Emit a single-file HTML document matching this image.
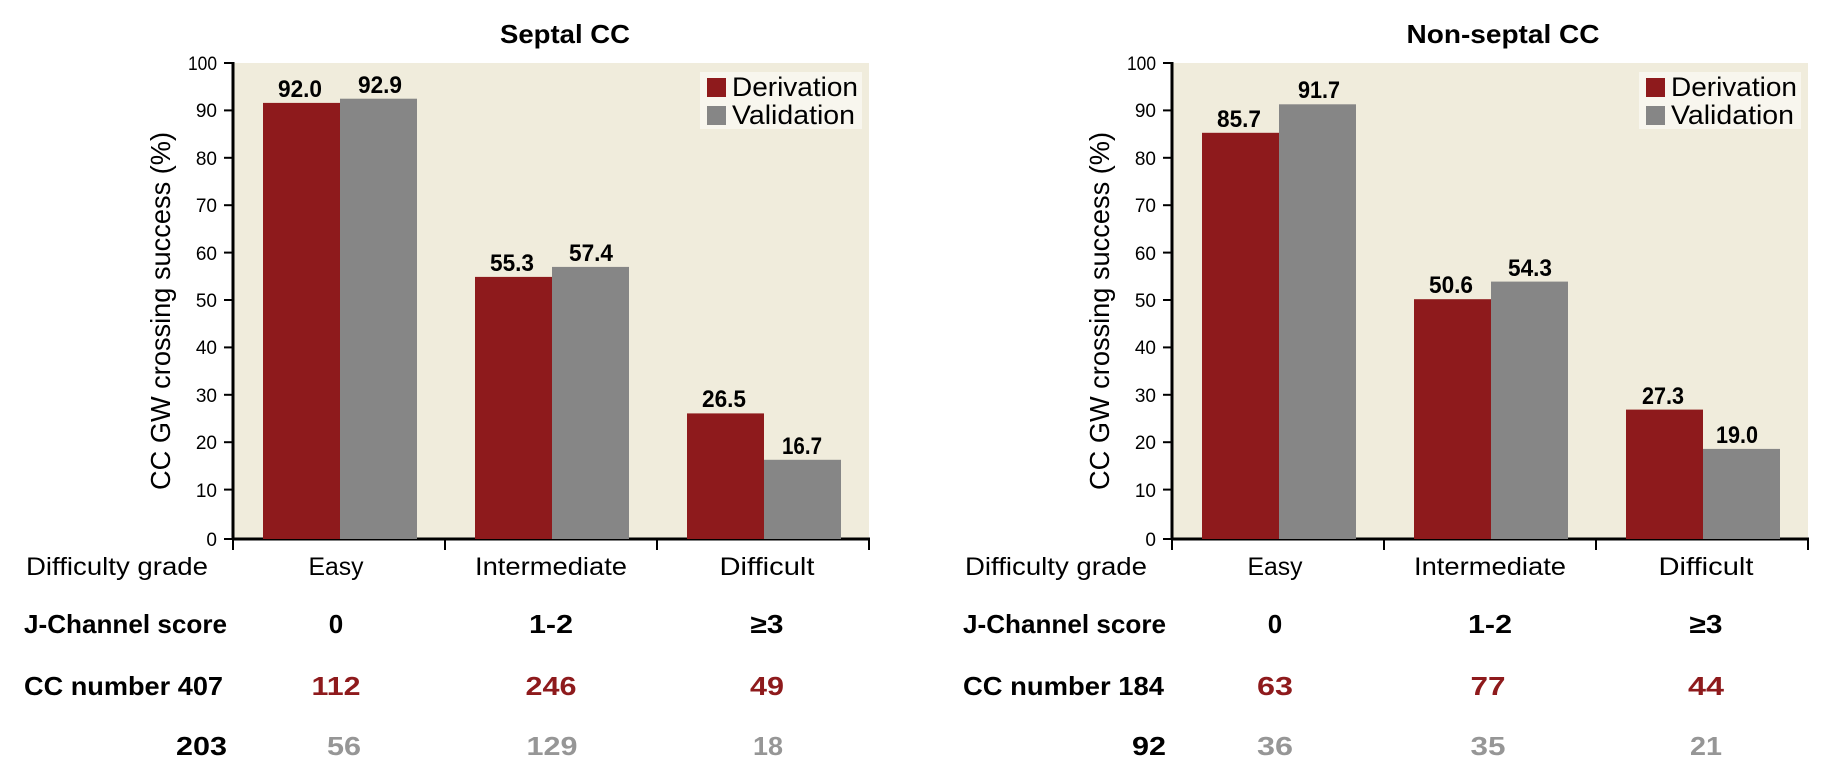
<!DOCTYPE html>
<html><head><meta charset="utf-8"><style>
html,body{margin:0;padding:0;background:#fff;}
svg{display:block;}
text{font-family:"Liberation Sans Narrow","Liberation Sans",sans-serif;}
</style></head><body>
<svg width="1831" height="780" viewBox="0 0 1831 780" xmlns="http://www.w3.org/2000/svg">
<defs>
<g id="frame">
  <rect x="233" y="63" width="636" height="476" fill="#f0ecdc"/>
  <rect x="700" y="72" width="162" height="57" fill="#f8f6ee"/>
  <rect x="707" y="78" width="19" height="19" fill="#8e1a1c"/>
  <rect x="707" y="106" width="19" height="19" fill="#868686"/>
  <text x="732" y="96" font-size="27" textLength="126" lengthAdjust="spacingAndGlyphs">Derivation</text>
  <text x="732" y="124" font-size="27" textLength="123" lengthAdjust="spacingAndGlyphs">Validation</text>
  <g stroke="#000" stroke-width="2">
    <line x1="224" y1="63" x2="233" y2="63"/><line x1="224" y1="110.4" x2="233" y2="110.4"/>
    <line x1="224" y1="157.8" x2="233" y2="157.8"/><line x1="224" y1="205.2" x2="233" y2="205.2"/>
    <line x1="224" y1="252.6" x2="233" y2="252.6"/><line x1="224" y1="300" x2="233" y2="300"/>
    <line x1="224" y1="347.4" x2="233" y2="347.4"/><line x1="224" y1="394.8" x2="233" y2="394.8"/>
    <line x1="224" y1="442.2" x2="233" y2="442.2"/><line x1="224" y1="489.6" x2="233" y2="489.6"/>
    <line x1="224" y1="539" x2="233" y2="539"/>
    <line x1="233" y1="539" x2="233" y2="550"/><line x1="445" y1="539" x2="445" y2="550"/>
    <line x1="657" y1="539" x2="657" y2="550"/><line x1="869" y1="539" x2="869" y2="550"/>
  </g>
  <line x1="233" y1="62" x2="233" y2="540" stroke="#000" stroke-width="3"/>
  <line x1="232" y1="539" x2="870" y2="539" stroke="#000" stroke-width="3"/>
  <g font-size="19" text-anchor="end">
    <text x="217" y="70" textLength="29" lengthAdjust="spacingAndGlyphs">100</text>
    <text x="217" y="117">90</text><text x="217" y="165">80</text><text x="217" y="212">70</text>
    <text x="217" y="260">60</text><text x="217" y="307">50</text><text x="217" y="354">40</text>
    <text x="217" y="402">30</text><text x="217" y="449">20</text><text x="217" y="497">10</text>
    <text x="217" y="546">0</text>
  </g>
  <text transform="translate(170,311) rotate(-90)" font-size="28" text-anchor="middle" textLength="358" lengthAdjust="spacingAndGlyphs" style="font-family:'Liberation Sans',sans-serif">CC GW crossing success (%)</text>
  <g font-size="25" style="font-family:'Liberation Sans',sans-serif">
    <text x="26" y="575" textLength="182" lengthAdjust="spacingAndGlyphs">Difficulty grade</text>
    <text x="336" y="575" text-anchor="middle" textLength="55" lengthAdjust="spacingAndGlyphs">Easy</text>
    <text x="551" y="575" text-anchor="middle" textLength="152" lengthAdjust="spacingAndGlyphs">Intermediate</text>
    <text x="767" y="575" text-anchor="middle" textLength="95" lengthAdjust="spacingAndGlyphs">Difficult</text>
  </g>
  <g font-size="26" font-weight="bold">
    <text x="24" y="633" textLength="203" lengthAdjust="spacingAndGlyphs">J-Channel score</text>
    <text x="336" y="633" text-anchor="middle">0</text>
    <text x="551" y="633" text-anchor="middle" textLength="44" lengthAdjust="spacingAndGlyphs">1-2</text>
    <text x="767" y="633" text-anchor="middle" textLength="33" lengthAdjust="spacingAndGlyphs">≥3</text>
  </g>
</g>
</defs>

<!-- Left chart -->
<use href="#frame"/>
<text x="565" y="43" font-size="26" font-weight="bold" text-anchor="middle" textLength="130" lengthAdjust="spacingAndGlyphs">Septal CC</text>
<rect x="263" y="102.9" width="77" height="436.1" fill="#8e1a1c"/>
<rect x="340" y="98.7" width="77" height="440.3" fill="#868686"/>
<rect x="475" y="276.9" width="77" height="262.1" fill="#8e1a1c"/>
<rect x="552" y="266.9" width="77" height="272.1" fill="#868686"/>
<rect x="687" y="413.4" width="77" height="125.6" fill="#8e1a1c"/>
<rect x="764" y="459.8" width="77" height="79.2" fill="#868686"/>
<g font-size="24" font-weight="bold" text-anchor="middle">
  <text x="300" y="97" textLength="44" lengthAdjust="spacingAndGlyphs">92.0</text>
  <text x="380" y="93" textLength="44" lengthAdjust="spacingAndGlyphs">92.9</text>
  <text x="512" y="271" textLength="44" lengthAdjust="spacingAndGlyphs">55.3</text>
  <text x="591" y="261" textLength="44" lengthAdjust="spacingAndGlyphs">57.4</text>
  <text x="724" y="407" textLength="44" lengthAdjust="spacingAndGlyphs">26.5</text>
  <text x="802" y="454" textLength="40" lengthAdjust="spacingAndGlyphs">16.7</text>
</g>
<g font-size="26" font-weight="bold">
  <text x="24" y="695" textLength="199" lengthAdjust="spacingAndGlyphs">CC number 407</text>
  <text x="227" y="755" text-anchor="end" textLength="51" lengthAdjust="spacingAndGlyphs">203</text>
  <g fill="#8e1a1c" text-anchor="middle">
    <text x="336" y="695" textLength="49" lengthAdjust="spacingAndGlyphs">112</text>
    <text x="551" y="695" textLength="51" lengthAdjust="spacingAndGlyphs">246</text>
    <text x="767" y="695" textLength="34" lengthAdjust="spacingAndGlyphs">49</text>
  </g>
  <g fill="#969696" text-anchor="middle">
    <text x="344" y="755" textLength="34" lengthAdjust="spacingAndGlyphs">56</text>
    <text x="552" y="755" textLength="51" lengthAdjust="spacingAndGlyphs">129</text>
    <text x="768" y="755" textLength="30" lengthAdjust="spacingAndGlyphs">18</text>
  </g>
</g>

<!-- Right chart -->
<g transform="translate(939,0)">
<use href="#frame"/>
<text x="564" y="43" font-size="26" font-weight="bold" text-anchor="middle" textLength="193" lengthAdjust="spacingAndGlyphs">Non-septal CC</text>
<rect x="263" y="132.8" width="77" height="406.2" fill="#8e1a1c"/>
<rect x="340" y="104.3" width="77" height="434.7" fill="#868686"/>
<rect x="475" y="299.2" width="77" height="239.8" fill="#8e1a1c"/>
<rect x="552" y="281.6" width="77" height="257.4" fill="#868686"/>
<rect x="687" y="409.6" width="77" height="129.4" fill="#8e1a1c"/>
<rect x="764" y="448.9" width="77" height="90.1" fill="#868686"/>
<g font-size="24" font-weight="bold" text-anchor="middle">
  <text x="300" y="127" textLength="44" lengthAdjust="spacingAndGlyphs">85.7</text>
  <text x="380" y="98" textLength="42" lengthAdjust="spacingAndGlyphs">91.7</text>
  <text x="512" y="293" textLength="44" lengthAdjust="spacingAndGlyphs">50.6</text>
  <text x="591" y="276" textLength="44" lengthAdjust="spacingAndGlyphs">54.3</text>
  <text x="724" y="404" textLength="42" lengthAdjust="spacingAndGlyphs">27.3</text>
  <text x="798" y="443" textLength="42" lengthAdjust="spacingAndGlyphs">19.0</text>
</g>
<g font-size="26" font-weight="bold">
  <text x="24" y="695" textLength="201" lengthAdjust="spacingAndGlyphs">CC number 184</text>
  <text x="227" y="755" text-anchor="end" textLength="34" lengthAdjust="spacingAndGlyphs">92</text>
  <g fill="#8e1a1c" text-anchor="middle">
    <text x="336" y="695" textLength="36" lengthAdjust="spacingAndGlyphs">63</text>
    <text x="549" y="695" textLength="35" lengthAdjust="spacingAndGlyphs">77</text>
    <text x="767" y="695" textLength="36" lengthAdjust="spacingAndGlyphs">44</text>
  </g>
  <g fill="#969696" text-anchor="middle">
    <text x="336" y="755" textLength="36" lengthAdjust="spacingAndGlyphs">36</text>
    <text x="549" y="755" textLength="35" lengthAdjust="spacingAndGlyphs">35</text>
    <text x="767" y="755" textLength="32" lengthAdjust="spacingAndGlyphs">21</text>
  </g>
</g>
</g>
</svg>
</body></html>
